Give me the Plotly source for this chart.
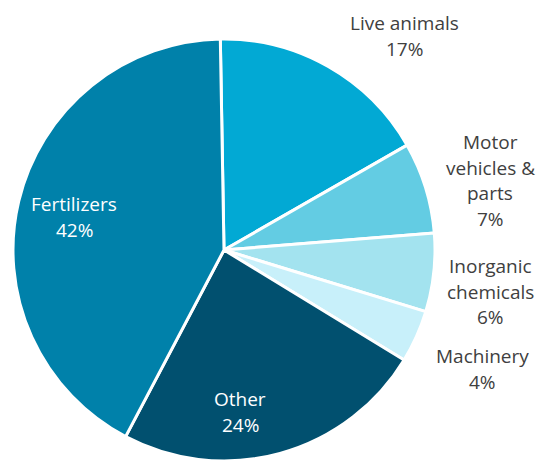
import plotly.graph_objects as go

categories = ["Live animals", "Motor vehicles & parts", "Inorganic chemicals", "Machinery", "Other", "Fertilizers"]
values = [17, 7, 6, 4, 24, 42]
label_lines = [
    ["Live animals", "17%"],
    ["Motor", "vehicles &", "parts", "7%"],
    ["Inorganic", "chemicals", "6%"],
    ["Machinery", "4%"],
    ["Other", "24%"],
    ["Fertilizers", "42%"],
]
colors = ["#02A9D4", "#63CCE3", "#A3E3EF", "#C8F0FA", "#01506F", "#0081AA"]

W, H = 539, 461
fig = go.Figure(go.Pie(
    labels=categories,
    values=values,
    sort=False,
    direction="clockwise",
    rotation=-1,
    marker=dict(colors=colors, line=dict(color="white", width=3)),
    textinfo="none",
    hoverinfo="label+percent",
    showlegend=False,
    domain=dict(x=[13 / W, 435 / W], y=[0, 422 / H]),
))

# label anchor positions (pixel centres, first line)
pos = [(404, 23), (490, 142), (490, 266), (482, 356), (240, 399), (74, 204)]
txt_colors = ["#404040", "#404040", "#404040", "#404040", "white", "white"]
line_h = 25.7
for lines, (px, py), c in zip(label_lines, pos, txt_colors):
    for i, t in enumerate(lines):
        fig.add_annotation(
            x=px / W, y=1 - (py + i * line_h) / H, xref="paper", yref="paper",
            text=t, showarrow=False, xanchor="center", yanchor="middle",
            font=dict(family="Open Sans", size=19, color=c),
        )

fig.update_layout(
    width=W, height=H,
    margin=dict(l=0, r=0, t=0, b=0),
    paper_bgcolor="white",
    plot_bgcolor="white",
)
fig.write_html(
    "out.html",
    config={"displayModeBar": False},
    post_script="document.body.style.margin='0';document.body.style.padding='0';",
)
